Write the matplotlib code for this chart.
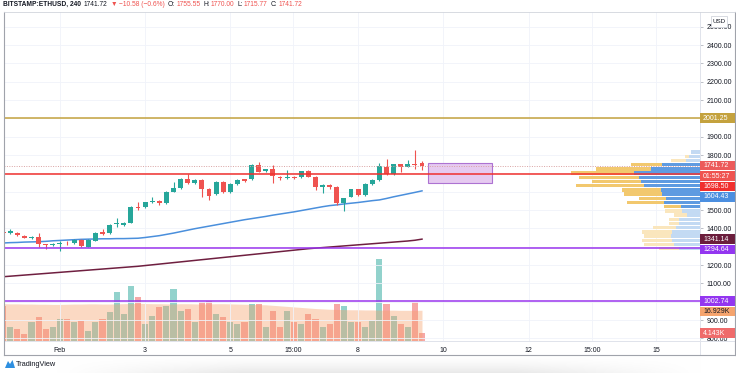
import numpy as np
import matplotlib
matplotlib.use("Agg")
from matplotlib import pyplot as plt
from matplotlib.patches import Rectangle, Polygon
from matplotlib.lines import Line2D
import matplotlib.transforms as mtransforms

plt.rcParams["font.family"] = ["Liberation Sans", "DejaVu Sans"]

W, H = 736, 373

# 4h candles, first bar Jan 30 16:00 (x axis = days since Feb 1 00:00)
first_bar_day = -4 / 3
opens = [1380, 1374, 1373, 1358, 1346, 1354, 1314, 1309, 1313, 1322,
         1318, 1336, 1300, 1333, 1380, 1373, 1422, 1418, 1431, 1518,
         1515, 1544, 1551, 1537, 1600, 1618, 1669, 1646, 1664, 1615,
         1586, 1654, 1597, 1642, 1668, 1668, 1746, 1713, 1722, 1682,
         1675, 1678, 1678, 1711, 1680, 1628, 1635, 1627, 1540, 1573,
         1614, 1582, 1641, 1664, 1737, 1696, 1749, 1737, 1749, 1755.55]
highs = [1388, 1394, 1380, 1364, 1358, 1374, 1317, 1320, 1331, 1331,
         1340, 1342, 1340, 1380, 1395, 1422, 1456, 1436, 1522, 1545,
         1546, 1573, 1553, 1604, 1653, 1674, 1696, 1668, 1667, 1618,
         1658, 1659, 1645, 1667, 1671, 1749, 1762, 1726, 1746, 1686,
         1718, 1683, 1715, 1716, 1684, 1641, 1640, 1631, 1568, 1617,
         1617, 1645, 1667, 1756, 1778, 1753, 1752, 1773, 1827, 1770.00]
lows = [1364, 1369, 1358, 1345, 1341, 1300, 1287, 1302, 1278, 1309,
        1312, 1300, 1297, 1330, 1365, 1370, 1409, 1415, 1428, 1500,
        1511, 1540, 1527, 1533, 1596, 1614, 1642, 1641, 1573, 1555,
        1582, 1592, 1592, 1638, 1655, 1664, 1705, 1709, 1650, 1664,
        1671, 1668, 1675, 1678, 1609, 1594, 1615, 1527, 1495, 1569,
        1578, 1578, 1637, 1660, 1693, 1692, 1710, 1734, 1724, 1715.77]
closes = [1372, 1385, 1362, 1349, 1353, 1313, 1309, 1314, 1318, 1318,
          1336, 1304, 1336, 1376, 1369, 1418, 1428, 1431, 1518, 1513,
          1542, 1551, 1538, 1600, 1622, 1669, 1646, 1664, 1615, 1578,
          1654, 1597, 1642, 1664, 1660, 1746, 1709, 1722, 1686, 1675,
          1682, 1673, 1711, 1682, 1628, 1636, 1627, 1540, 1564, 1614,
          1582, 1641, 1664, 1740, 1696, 1749, 1737, 1749, 1744, 1741.72]

ma_blue = [1320, 1322, 1323, 1325, 1326, 1327, 1329, 1332, 1334, 1336,
           1338, 1340, 1341, 1342, 1343, 1343, 1344, 1344, 1345, 1346,
           1350, 1355, 1360, 1367, 1374, 1382, 1390, 1398, 1405, 1412,
           1419, 1426, 1433, 1440, 1447, 1453, 1459, 1465, 1472, 1478,
           1484, 1490, 1497, 1504, 1511, 1518, 1524, 1528, 1533, 1537,
           1541, 1546, 1551, 1555, 1563, 1572, 1580, 1588, 1596, 1604.43]
ma_maroon = [1136, 1139, 1142, 1145, 1148, 1151, 1154, 1157, 1160, 1163,
             1166, 1169, 1172, 1175, 1178, 1181, 1184, 1187, 1190, 1193,
             1197, 1201, 1205, 1209, 1213, 1217, 1221, 1225, 1229, 1233,
             1237, 1241, 1245, 1249, 1253, 1257, 1261, 1265, 1269, 1273,
             1277, 1281, 1285, 1289, 1292, 1295, 1298, 1301, 1304, 1307,
             1310, 1313, 1316, 1319, 1322, 1325, 1328, 1331, 1335, 1341.14]

volume_k = [19.6, 7.8, 6.2, 3.4, 10.1, 12.9, 6.7, 7.8, 12.3, 11.8,
            10.6, 11.2, 5.6, 10.1, 12.3, 15.7, 26.9, 15.1, 30.8, 24.6,
            9.5, 14.0, 18.5, 19.6, 28.6, 16.8, 17.9, 10.1, 21.3, 22.4,
            15.1, 13.4, 10.1, 9.5, 10.1, 20.2, 20.7, 7.3, 16.8, 7.8,
            16.8, 10.1, 9.5, 15.1, 11.8, 7.3, 9.5, 20.7, 19.6, 10.6,
            10.6, 7.8, 11.2, 45.9, 20.2, 14.0, 9.5, 7.8, 21.3, 4.143]
volume_ma_k = [20.6, 20.5, 20.5, 20.4, 20.4, 20.3, 20.3, 20.2, 20.2, 20.3,
               20.4, 20.4, 20.5, 20.5, 20.4, 20.4, 20.5, 20.6, 20.7, 20.8,
               20.7, 20.6, 20.6, 20.5, 20.5, 20.6, 20.6, 20.5, 20.4, 20.5,
               20.6, 20.6, 20.5, 20.4, 20.3, 20.2, 20.1, 20.0, 19.7, 19.4,
               19.1, 18.8, 18.5, 18.2, 17.9, 17.7, 17.5, 17.4, 17.3, 17.2,
               17.2, 17.1, 17.1, 17.0, 17.0, 17.0, 16.9, 16.9, 16.9, 16.929]

# visible range volume profile, rows from top (high) to bottom (low)
profile_high, profile_low = 1827, 1278
profile_up = [8, 10, 13, 37, 48, 65, 60, 58, 55, 38, 37, 33, 35, 18, 17, 12, 20, 20, 23, 27, 28, 27, 25, 20]
profile_down = [0, 4, 15, 31, 55, 63, 60, 49, 68, 39, 38, 27, 37, 17, 17, 13, 10, 10, 23, 30, 27, 30, 30, 20]
value_area_rows = (3, 13)

level_gold = 2001.25
level_red = 1698.50
level_purple = [1294.64, 1002.74]
last_price = 1741.72
countdown = "01:55:27"

zone_days = (8.64, 10.14)
zone_prices = (1650, 1754)

xtick_days = [0, 2, 4, 5.47, 7, 9, 11, 12.49, 14]
xtick_labels = ["Feb", "3", "5", "15:00", "8", "10", "12", "15:00", "15"]

header = [
    ("BITSTAMP:ETHUSD, 240", "#131722", "bold", 3),
    ("1741.72", "#131722", "normal", 3),
    ("▼", "#ef5350", "normal", 2),
    ("−10.58 (−0.6%)", "#ef5350", "normal", 3),
    ("O:", "#131722", "normal", 1),
    ("1755.55", "#ef5350", "normal", 3),
    ("H:", "#131722", "normal", 1),
    ("1770.00", "#ef5350", "normal", 3),
    ("L:", "#131722", "normal", 1),
    ("1715.77", "#ef5350", "normal", 3),
    ("C:", "#131722", "normal", 1),
    ("1741.72", "#ef5350", "normal", 3),
]

GREEN, RED = "#26a69a", "#ef5350"


def fx(px):
    return px / W


def fy(py):
    return 1 - py / H


fig = plt.figure(figsize=(W / 100, H / 100), dpi=100)
fig.patch.set_facecolor("white")

# bottom screenshot shadow
sh = fig.add_axes([0, 0, 1, 18 / H], zorder=-5)
gx = np.linspace(0, 1, 200)
gy = np.linspace(0, 1, 20)
hx = np.clip(np.minimum((gx - 0.08) / 0.25, (0.95 - gx) / 0.25), 0, 1)
shade = 1 - 0.085 * np.outer(gy ** 1.5, hx)
sh.imshow(np.dstack([shade] * 3), aspect="auto", extent=(0, 1, 0, 1), origin="upper")
sh.axis("off")

PL, PR, PT, PB = 3.5, 699.5, 12, 340.5
ax = fig.add_axes([fx(PL), fy(PB), fx(PR) - fx(PL), fy(PT) - fy(PB)])
vax = ax.twinx()
ax.set_zorder(2)
ax.patch.set_visible(False)

px_per_day = 42.6
day0_px = 59.9
ax.set_xlim((PL - day0_px) / px_per_day, (PR - day0_px) / px_per_day)
px_per_usd = 0.18333
ax.set_ylim((485 - PB) / px_per_usd, (485 - PT) / px_per_usd)

o = np.array(opens)
h = np.array(highs)
l = np.array(lows)
c = np.array(closes)
t = first_bar_day + np.arange(len(o)) / 6
colors = np.where(c >= o, GREEN, RED)

ax.vlines(t, l, h, colors=colors, lw=0.8, zorder=4)
ax.bar(t, np.maximum(np.abs(c - o), 4), bottom=np.minimum(o, c), width=0.115,
       color=colors, zorder=5)

ax.plot(t, ma_blue, color="#4a8fdc", lw=1.1, zorder=3)
ax.plot(t, ma_maroon, color="#6f1f40", lw=1.1, zorder=3)

ax.axhline(level_gold, color="#c4a23e", lw=1.1, zorder=6)
ax.axhline(last_price, color="#d9a2a2", lw=0.7, ls=(0, (1, 1.5)), zorder=6)
ax.axhline(level_red, color="#f0302e", lw=1.1, zorder=6)
for lv in level_purple:
    ax.axhline(lv, color="#9a35ee", lw=1.1, zorder=6)

ax.add_patch(Rectangle((zone_days[0], zone_prices[0]), zone_days[1] - zone_days[0],
                       zone_prices[1] - zone_prices[0], fc="#e6caf0", ec="#ad72d2",
                       lw=0.8, zorder=2))

# volume profile
trans = mtransforms.blended_transform_factory(ax.transAxes, ax.transData)
edges = np.linspace(profile_high, profile_low, len(profile_up) + 1)
row_h = edges[0] - edges[1]
totals = np.array(profile_up) + np.array(profile_down)
scale = 0.184 / totals.max()
for i, (u, d) in enumerate(zip(profile_up, profile_down)):
    dark = value_area_rows[0] <= i <= value_area_rows[1]
    cu = "#5f9be1" if dark else "#c3daf3"
    cd = "#f2c86e" if dark else "#fae6bd"
    yb = edges[i + 1] + row_h * 0.1
    ax.add_patch(Rectangle((1 - u * scale, yb), u * scale, row_h * 0.8,
                           transform=trans, fc=cu, ec="none", zorder=4))
    ax.add_patch(Rectangle((1 - (u + d) * scale, yb), d * scale, row_h * 0.8,
                           transform=trans, fc=cd, ec="none", zorder=4))

# volume
vax.bar(t, volume_k, width=0.145, color=colors, alpha=0.5, zorder=1)
vax.fill_between(t, 0, volume_ma_k, color="#f6a06a", alpha=0.4, lw=0, zorder=2)
vax.set_ylim(0, (PB - PT) * 0.56)
vax.set_yticks([])
for s in list(ax.spines.values()) + list(vax.spines.values()):
    s.set_visible(False)

ax.set_xticks(xtick_days, xtick_labels)
ax.tick_params(axis="x", length=0, pad=4.5, labelsize=5, labelcolor="#131722")
ax.grid(True, color="#f0f3fa", lw=0.6)
ax.set_axisbelow(True)


# price scale labels
def disp_y(axis, val):
    return H - axis.transData.transform((0, val))[1]


labels = [
    (f"{level_gold:.2f}", disp_y(ax, level_gold), "#c4a23e", "white"),
    (f"{last_price:.2f}", disp_y(ax, last_price), "#ec5a5a", "white"),
    (countdown, disp_y(ax, last_price) + 10.5, "#ef5350", "white"),
    (f"{level_red:.2f}", disp_y(ax, level_red), "#f0302e", "white"),
    (f"{ma_blue[-1]:.2f}", disp_y(ax, ma_blue[-1]), "#4c8fe0", "white"),
    (f"{ma_maroon[-1]:.2f}", disp_y(ax, ma_maroon[-1]), "#6b1d3c", "white"),
    (f"{level_purple[0]:.2f}", disp_y(ax, level_purple[0]), "#9336f0", "white"),
    (f"{level_purple[1]:.2f}", disp_y(ax, level_purple[1]), "#9336f0", "white"),
    (f"{volume_ma_k[-1]:.3f}K", disp_y(vax, volume_ma_k[-1]), "#f5a46e", "#131722"),
    (f"{volume_k[-1]:.3f}K", disp_y(vax, volume_k[-1]), "#ef6b6b", "white"),
]
box_h, gap = 9.6, 10.4
prev = -100
placed = []
for text, yc, bg, fg in labels:
    yc = max(yc, prev + gap)
    prev = yc
    placed.append(yc)
    fig.add_artist(Rectangle((fx(PR), fy(yc + box_h / 2)), fx(734.5) - fx(PR),
                             box_h / H, transform=fig.transFigure, fc=bg, ec="none",
                             zorder=10))
    fig.text(fx(703), fy(yc), text, fontsize=5, color=fg, va="center", ha="left",
             zorder=11)

# tick labels hidden under the price boxes are left blank
yt = np.arange(800, 2501, 100)
ytl = []
for v in yt:
    yv = disp_y(ax, v)
    hidden = any(abs(yv - p) < box_h * 0.75 for p in placed[:-1])
    ytl.append("" if hidden else f"{v:.2f}")
ax.set_yticks(yt, ytl)
ax.yaxis.tick_right()
ax.tick_params(axis="y", length=2.5, width=0.6, color="#b2b5be", pad=2.5,
               labelsize=5, labelcolor="#131722")

fig.add_artist(Rectangle((fx(711), fy(26.5)), fx(727) - fx(711), 10 / H,
                         transform=fig.transFigure, fc="white", ec="#d1d4dc", lw=0.6,
                         zorder=10))
fig.text(fx(719), fy(21.5), "USD", fontsize=4.5, color="#131722", ha="center",
         va="center", zorder=11)

# frame
frame = dict(transform=fig.transFigure, color="#a0a3ab", lw=0.8, zorder=12)
fig.add_artist(Line2D([fx(3.5), fx(3.5)], [fy(12), fy(355)], **frame))
fig.add_artist(Line2D([fx(3.5), fx(735)], [fy(355), fy(355)], **frame))
fig.add_artist(Line2D([fx(735), fx(735)], [fy(12), fy(355)], **frame))
fig.add_artist(Line2D([fx(3.5), fx(735)], [fy(12), fy(12)], transform=fig.transFigure,
                      color="#d1d4dc", lw=0.6, zorder=12))
sep = dict(transform=fig.transFigure, color="#e0e3eb", lw=0.7, zorder=9)
fig.add_artist(Line2D([fx(PR), fx(PR)], [fy(12), fy(355)], **sep))
fig.add_artist(Line2D([fx(3.5), fx(735)], [fy(PB), fy(PB)], **sep))

# header
renderer = fig.canvas.get_renderer()
x = 3
for text, col, weight, g in header:
    tx = fig.text(fx(x), fy(4.5), text, fontsize=4.8, color=col, fontweight=weight,
                  va="center", ha="left")
    x = tx.get_window_extent(renderer).x1 + g

# logo
fig.add_artist(Polygon([(fx(5), fy(368)), (fx(8), fy(361)), (fx(10), fy(364)),
                        (fx(12.5), fy(360)), (fx(15), fy(368))],
                       closed=True, transform=fig.transFigure, fc="#2e8fe0", ec="none"))
fig.text(fx(16), fy(364.5), "TradingView", fontsize=5.3, color="#131722", va="center",
         ha="left")

fig.savefig("out.png", dpi=100)
plt.close(fig)
